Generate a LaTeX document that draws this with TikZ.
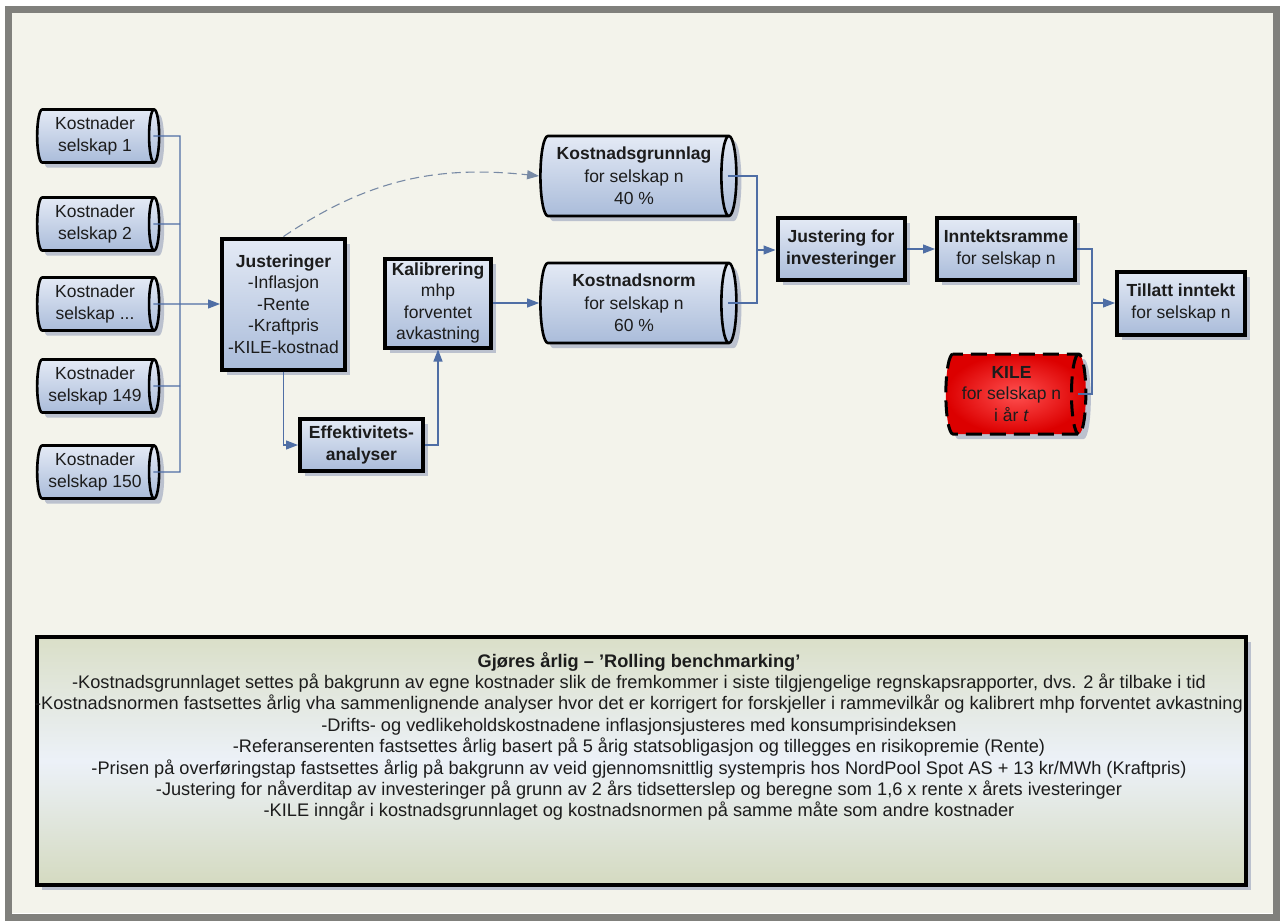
\documentclass[tikz,border=0pt]{standalone}
\usepackage{fontspec}
\setmainfont{Liberation Sans}
\usetikzlibrary{shapes.geometric,arrows.meta,shadows}
\definecolor{bgc}{RGB}{243,243,235}
\definecolor{framec}{RGB}{128,128,124}
\definecolor{linec}{RGB}{79,110,165}
\definecolor{dashc}{RGB}{120,138,165}
\definecolor{boxtop}{RGB}{228,234,245}
\definecolor{boxbot}{RGB}{170,188,218}
\definecolor{shadc}{RGB}{150,160,188}
\definecolor{txtc}{RGB}{28,28,28}
\definecolor{notetop}{RGB}{218,223,200}
\definecolor{notemid}{RGB}{236,241,248}
\definecolor{notebot}{RGB}{212,218,192}
\definecolor{kilein}{RGB}{255,80,80}
\definecolor{kileout}{RGB}{220,0,0}
\begin{document}
\begin{tikzpicture}[x=1pt,y=-1pt,
  every node/.style={text=txtc, font=\fontsize{17.5}{21.5}\selectfont},
  shad/.style={drop shadow={shadow xshift=5pt, shadow yshift=-5pt, fill=shadc, opacity=0.6}},
  bx/.style={rectangle, draw=black, line width=4pt, top color=boxtop, bottom color=boxbot,
    align=center, inner sep=0pt, shad},
  cyl/.style={cylinder, draw=black, line width=2.6pt, aspect=0.26, top color=boxtop, bottom color=boxbot,
    align=center, inner sep=0pt, shad, font=\fontsize{17.5}{22.5}\selectfont},
  kilecyl/.style={cylinder, draw=black, line width=3pt, dash pattern=on 16pt off 8pt, aspect=0.26,
    inner color=kilein, outer color=kileout, align=center, inner sep=0pt, shad},
  notebox/.style={rectangle, draw=black, line width=4pt, top color=notetop,
    bottom color=notebot, middle color=notemid, inner sep=0pt, shad},
  conn/.style={draw=linec, line width=1.1pt},
  arr/.style={conn, -{Triangle[length=12pt,width=9pt]}},
]
\useasboundingbox (0,0) rectangle (1285,922);
\fill[white] (0,0) rectangle (1285,922);
\fill[bgc] (12,13) rectangle (1273,913);
\draw[framec, line width=7pt] (8.5,9.5) rectangle (1276.5,917.5);

% left cylinders
\node[cyl, minimum height=122, minimum width=53] (c1) at (95,136) {Kostnader\\selskap 1};
\node[cyl, minimum height=122, minimum width=53] (c2) at (95,224) {Kostnader\\selskap 2};
\node[cyl, minimum height=122, minimum width=53] (c3) at (95,304) {Kostnader\\selskap ...};
\node[cyl, minimum height=122, minimum width=53] (c4) at (95,386) {Kostnader\\selskap 149};
\node[cyl, minimum height=122, minimum width=53] (c5) at (95,472) {Kostnader\\selskap 150};

% boxes
\node[bx, minimum width=123, minimum height=131] (just) at (283.5,304)
  {\textbf{Justeringer}\\-Inflasjon\\-Rente\\-Kraftpris\\-KILE-kostnad};
\node[bx, minimum width=123, minimum height=52] (eff) at (361.5,445)
  {\textbf{Effektivitets-}\\\textbf{analyser}};
\node[bx, minimum width=106, minimum height=89] (kal) at (438,303)
  {\textbf{Kalibrering}\\mhp\\forventet\\avkastning};
\node[cyl, minimum height=196, minimum width=80] (kgr) at (634,176)
  {\textbf{Kostnadsgrunnlag}\\for selskap n\\40 \%};
\node[cyl, minimum height=196, minimum width=80] (knorm) at (634,303)
  {\textbf{Kostnadsnorm}\\for selskap n\\60 \%};
\node[bx, minimum width=127, minimum height=62] (jinv) at (841,249)
  {\textbf{Justering for}\\\textbf{investeringer}};
\node[bx, minimum width=138, minimum height=62] (innt) at (1006,249)
  {\textbf{Inntektsramme}\\for selskap n};
\node[bx, minimum width=128, minimum height=63] (till) at (1181,303)
  {\textbf{Tillatt inntekt}\\for selskap n};
\node[kilecyl, minimum height=140, minimum width=80] (kile) at (1011.5,394)
  {\textbf{KILE}\\for selskap n\\i år \textit{t}};

% connectors left
\coordinate (b1) at (180,136);
\draw[conn] ([xshift=-7pt]c1.east) -- (b1) |- ([xshift=-7pt]c5.east);
\draw[conn] ([xshift=-7pt]c2.east) -- (b1 |- c2);
\draw[conn] ([xshift=-7pt]c4.east) -- (b1 |- c4);
\draw[arr] ([xshift=-7pt]c3.east) -- (c3 -| just.west);

\draw[arr] (just.south) |- (eff.west);
\draw[arr] (eff.east) -| (kal.south);
\draw[arr] (kal.east) -- (knorm.west);
\draw[conn, draw=dashc, dash pattern=on 9pt off 5pt, -{Triangle[length=12pt,width=9pt]}]
  (just.north) to[out=34,in=174] (kgr.west);

\coordinate (m1) at (757,250);
\draw[conn] ([xshift=-10pt]kgr.east) -| (m1) |- ([xshift=-10pt]knorm.east);
\draw[arr] (m1) -- (m1 -| jinv.west);
\draw[arr] (jinv.east) -- (innt.west);

\coordinate (m2) at (1092,303);
\draw[conn] (innt.east) -| (m2) |- ([xshift=-9pt]kile.east);
\draw[arr] (m2) -- (m2 -| till.west);

% bottom note
\node[notebox, minimum width=1209, minimum height=248] (note) at (641.5,761) {};
\node[anchor=north, align=center, inner sep=0pt, font=\fontsize{18.2}{21.4}\selectfont] (notetext) at (639,652)
  {\textbf{Gjøres årlig – 'Rolling benchmarking'}\\
  -Kostnadsgrunnlaget settes på bakgrunn av egne kostnader slik de fremkommer i siste tilgjengelige regnskapsrapporter, dvs. 2 år tilbake i tid\\
  -Kostnadsnormen fastsettes årlig vha sammenlignende analyser hvor det er korrigert for forskjeller i rammevilkår og kalibrert mhp forventet avkastning\\
  -Drifts- og vedlikeholdskostnadene inflasjonsjusteres med konsumprisindeksen\\
  -Referanserenten fastsettes årlig basert på 5 årig statsobligasjon og tillegges en risikopremie (Rente)\\
  -Prisen på overføringstap fastsettes årlig på bakgrunn av veid gjennomsnittlig systempris hos NordPool Spot AS + 13 kr/MWh (Kraftpris)\\
  -Justering for nåverditap av investeringer på grunn av 2 års tidsetterslep og beregne som 1,6 x rente x årets ivesteringer\\
  -KILE inngår i kostnadsgrunnlaget og kostnadsnormen på samme måte som andre kostnader};
\end{tikzpicture}
\end{document}
